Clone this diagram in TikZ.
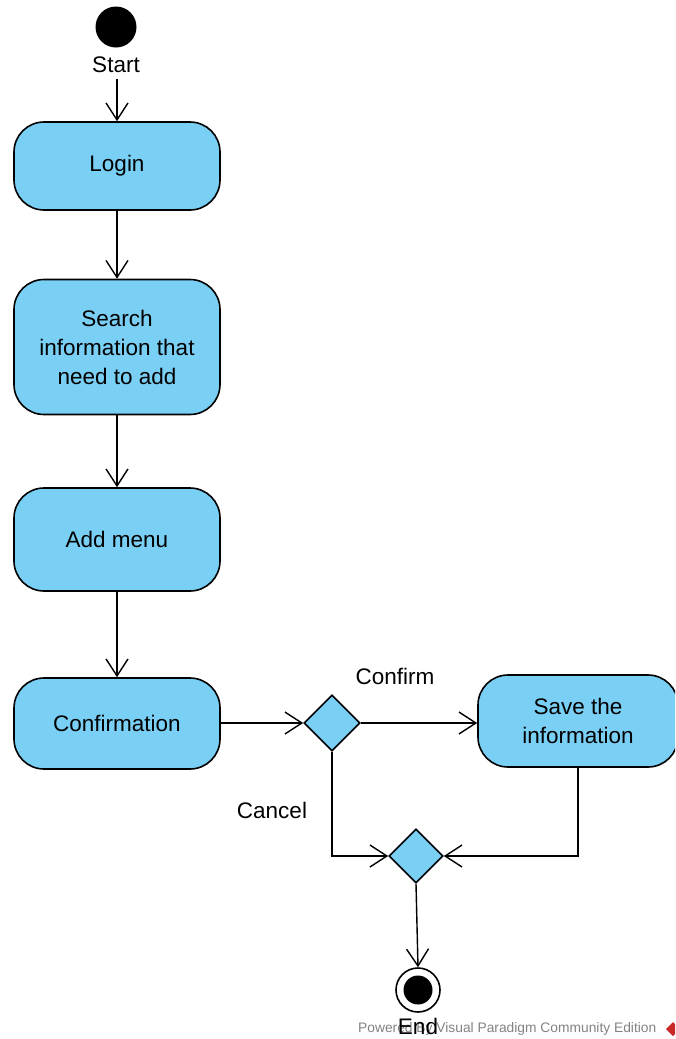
\documentclass[tikz,border=0pt]{standalone}
\usepackage{fontspec}
\setmainfont{Liberation Sans}
\usetikzlibrary{arrows.meta,shapes.geometric}
\definecolor{actfill}{RGB}{122,207,245}
\definecolor{markgray}{RGB}{130,130,130}
\definecolor{markred}{RGB}{200,40,40}
\begin{document}
\begin{tikzpicture}[x=1pt,y=-1pt,
  action/.style={draw=black,line width=1.6pt,fill=actfill,rounded corners=30pt,
    minimum width=206pt,align=center,font=\fontsize{22.5}{29}\selectfont,inner sep=0pt},
  decision/.style={draw=black,line width=1.6pt,fill=actfill,diamond,aspect=1,
    minimum width=56pt,minimum height=56pt,inner sep=0pt},
  flow/.style={line width=1.4pt,-{Straight Barb[length=17pt,width=22pt,line width=1.4pt]}},
  lbl/.style={font=\fontsize{22.5}{25}\selectfont,inner sep=0pt}]
\useasboundingbox (0,0) rectangle (675,1039);
\clip (0,0) rectangle (675,1039);

% start and end
\node[circle,fill=black,minimum size=41pt,inner sep=0pt] (start) at (116,27) {};
\node[lbl] (startlbl) at (116,65) {Start};
\node[circle,draw=black,line width=1.6pt,minimum size=44pt,inner sep=0pt,fill=white] (end) at (418,990) {};
\node[circle,fill=black,minimum size=29pt,inner sep=0pt] (endin) at (end.center) {};

% actions
\node[action,minimum height=88pt] (login) at (117,166) {Login};
\node[action,minimum height=135pt] (search) at (117,347) {Search\\information that\\need to add};
\node[action,minimum height=103pt] (addmenu) at (117,539.5) {Add menu};
\node[action,minimum height=91pt] (confirmation) at (117,723.5) {Confirmation};
\node[action,minimum width=200pt,minimum height=92pt] (save) at (578,721) {Save the\\information};

% decisions
\node[decision] (dec1) at (332,723) {};
\node[decision,minimum width=54pt,minimum height=54pt] (dec2) at (416,856) {};

% flows (yshift acts on the page, so positive moves upward)
\coordinate (startflow) at ([yshift=42pt]login.north);
\draw[flow] (startflow) -- (login.north);
\draw[flow] (login.south) -- (search.north);
\draw[flow] (search.south) -- (addmenu.north);
\draw[flow] (addmenu.south) -- (confirmation.north);
\draw[flow] (confirmation.east |- dec1.west) -- (dec1.west);
\draw[flow] (dec1.east) -- (dec1.east -| save.west);
\draw[flow] (dec1.south) |- (dec2.west);
\draw[flow] (save.south) |- (dec2.east);
\draw[flow] (dec2.south) -- (end.north);

% guards
\node[lbl] (confirmlbl) at (395,676) {Confirm};
\node[lbl] (cancellbl) at (272,810) {Cancel};

% watermark and end label
\node[font=\fontsize{13.8}{16}\selectfont,text=markgray,anchor=west,inner sep=0pt] (mark) at (358,1029) {Powered By Visual Paradigm Community Edition};
\node[lbl] (endlbl) at (418,1026) {End};
\fill[markred] (666,1029) -- (673,1022) -- (680,1029) -- (673,1036) -- cycle;
\end{tikzpicture}
\end{document}
